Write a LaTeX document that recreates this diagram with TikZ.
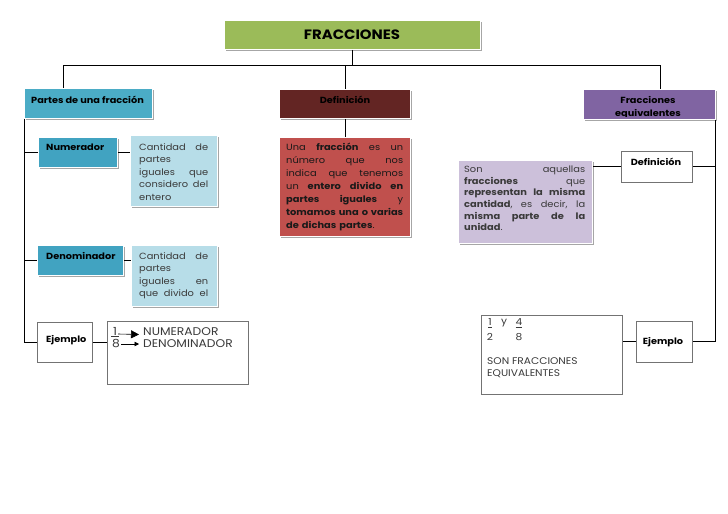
\documentclass[tikz,border=0pt]{standalone}
\usepackage{fontspec}
\setmainfont{Poppins}[FakeStretch=1.1]
\usetikzlibrary{shadows,arrows.meta}
\definecolor{cgreen}{HTML}{9BBB59}
\definecolor{cteal}{HTML}{4BACC6}
\definecolor{cteald}{HTML}{41A3C1}
\definecolor{clblue}{HTML}{B7DDE8}
\definecolor{cmaroon}{HTML}{632523}
\definecolor{cred}{HTML}{C0504D}
\definecolor{cpurple}{HTML}{8064A2}
\definecolor{clpurple}{HTML}{CCC0DA}
\definecolor{ctext}{HTML}{3A3A3A}
\newcommand{\J}[1]{\makebox[\linewidth][l]{#1}\\}
\begin{document}
\begin{tikzpicture}[x=1bp,y=-1bp,
  colbox/.style={draw=white, line width=0.8bp, inner sep=0, anchor=north west,
    drop shadow={shadow xshift=1.6bp, shadow yshift=-1.6bp, fill=black, opacity=0.35}},
  whitebox/.style={draw=black!55, line width=0.6bp, fill=white, inner sep=0, anchor=north west,
    drop shadow={shadow xshift=1bp, shadow yshift=-1bp, fill=black, opacity=0.15}},
  lab/.style={inner sep=0, font=\fontsize{8.9}{10}\selectfont\bfseries, text=black},
  body/.style={inner sep=0, anchor=north west, align=left, text=ctext},
  conn/.style={draw=black, line width=0.8bp}]
\useasboundingbox (0,0) rectangle (728,514);
\fill[white] (0,0) rectangle (728,514);

% boxes
\node[colbox, fill=cgreen, minimum width=256bp, minimum height=29bp] (title) at (224,20) {};
\node[colbox, fill=cteal, minimum width=128bp, minimum height=30bp] (partes) at (24,88) {};
\node[colbox, fill=cteald, minimum width=79bp, minimum height=30bp] (num) at (38,137) {};
\node[colbox, fill=clblue, minimum width=87bp, minimum height=71bp] (cant1) at (130,135) {};
\node[colbox, fill=cteald, minimum width=86bp, minimum height=30bp] (den) at (37,245) {};
\node[colbox, fill=clblue, minimum width=86bp, minimum height=61bp] (cant2) at (131,245) {};
\node[whitebox, minimum width=55bp, minimum height=40bp] (ej1) at (37,322) {};
\node[whitebox, minimum width=141bp, minimum height=63bp] (ex1) at (107,321) {};
\node[colbox, fill=cmaroon, minimum width=131bp, minimum height=29bp] (def) at (279,89) {};
\node[colbox, fill=cred, minimum width=131bp, minimum height=99bp] (red) at (279,137) {};
\node[colbox, fill=cpurple, minimum width=132bp, minimum height=30bp] (fe) at (583,89) {};
\node[whitebox, minimum width=71bp, minimum height=31bp] (def2) at (621,151) {};
\node[colbox, fill=clpurple, minimum width=134bp, minimum height=83bp] (pur) at (458,160) {};
\node[whitebox, minimum width=56bp, minimum height=41bp] (ej2) at (636,321) {};
\node[whitebox, minimum width=141bp, minimum height=79bp] (ex2) at (481,315) {};

% connectors
\coordinate (jL) at (63,65);
\coordinate (jR) at (660,65);
\draw[conn] (title.south) -- (title.south |- jL);
\draw[conn] (jL |- partes.north) -- (jL) -- (jR) -- (jR |- fe.north);
\draw[conn] (def.north) -- (def.north |- jL);
\draw[conn] (def.south) -- (red.north);
\draw[conn] (partes.south west) |- (ej1.west);
\draw[conn] (partes.south west |- num.west) -- (num.west);
\draw[conn] (partes.south west |- den.west) -- (den.west);
\draw[conn] (num.east) -- (cant1.west |- num.east);
\draw[conn] (den.east) -- (cant2.west |- den.east);
\draw[conn] (ej1.east) -- (ex1.west |- ej1.east);
\draw[conn] (fe.south east) |- (ej2.east);
\draw[conn] (fe.south east |- def2.east) -- (def2.east);
\draw[conn] (def2.west) -- (pur.east |- def2.west);
\draw[conn] (ej2.west) -- (ex2.east |- ej2.west);

% labels
\node[lab, font=\fontsize{13.6}{15}\selectfont\bfseries] (titletxt) at (352,35) {FRACCIONES};
\node[lab, anchor=west] (partestxt) at (31,100) {Partes de una fracción};
\node[lab, anchor=west] (numtxt) at (46,147) {Numerador};
\node[lab, anchor=west] (dentxt) at (46,256) {Denominador};
\node[lab, anchor=west] (ej1txt) at (46,340) {Ejemplo};
\node[lab] (deftxt) at (345,100) {Definición};
\begin{scope}
\clip ([yshift=-0.5bp]fe.north west) rectangle ([xshift=-0.5bp,yshift=3bp]fe.south east);
\node[lab, align=center, font=\fontsize{8.9}{13.5}\selectfont\bfseries, anchor=north] (fetxt) at (648,96) {Fracciones\\equivalentes};
\end{scope}
\node[lab] (def2txt) at (656,162) {Definición};
\node[lab] (ej2txt) at (663,342) {Ejemplo};

% body texts
\node[body, text width=69bp, font=\fontsize{9}{12.6}\selectfont] (c1txt) at (139,143)
 {\J{Cantidad\hfill de}partes\\\J{iguales\hfill que}\J{considero\hfill del}entero};
\node[body, text width=69bp, font=\fontsize{9}{12.6}\selectfont] (c2txt) at (139,252)
 {\J{Cantidad\hfill de}partes\\\J{iguales\hfill en}\J{que\hfill divido\hfill el}};
\node[body, text width=117bp, text=black!90, font=\fontsize{9}{13}\selectfont] (redtxt) at (286,143)
 {\J{Una\hfill \textbf{fracción}\hfill es\hfill un}\J{número\hfill que\hfill nos}\J{indica\hfill que\hfill tenemos}\J{un\hfill \textbf{entero}\hfill\textbf{divido}\hfill\textbf{en}}\J{\textbf{partes}\hfill\textbf{iguales}\hfill y}\J{\textbf{tomamos}\hfill\textbf{una}\hfill\textbf{o}\hfill\textbf{varias}}\textbf{de dichas partes}.};
\node[body, text width=121bp, font=\fontsize{9}{11.6}\selectfont] (purtxt) at (464,166)
 {\J{Son\hfill aquellas}\J{\textbf{fracciones}\hfill que}\J{\textbf{representan}\hfill\textbf{la}\hfill\textbf{misma}}\J{\textbf{cantidad},\hfill es\hfill decir,\hfill la}\J{\textbf{misma}\hfill\textbf{parte}\hfill\textbf{de}\hfill\textbf{la}}\textbf{unidad}.};

% example left
\node[inner sep=0, anchor=west, font=\fontsize{11.2}{13}\selectfont, text=ctext] (n1) at (111,332) {\underline{\,1\,}};
\node[inner sep=0, anchor=west, font=\fontsize{11.2}{13}\selectfont, text=ctext] (n8) at (112,344) {8};
\node[inner sep=0, anchor=west, font=\fontsize{11.2}{13}\selectfont, text=ctext] (nnum) at (143,332) {NUMERADOR};
\node[inner sep=0, anchor=west, font=\fontsize{11.2}{13}\selectfont, text=ctext] (nden) at (143,344) {DENOMINADOR};
\coordinate (a1) at ([xshift=-1bp,yshift=-2bp]n1.east);
\draw[line width=0.6bp, -{Triangle[length=8bp,width=8bp]}] (a1) -- ([xshift=-4bp,yshift=-2.5bp]nnum.west);
\draw[line width=0.6bp, -{Triangle[length=4.5bp,width=4.5bp]}] ([xshift=1bp]n8.east) -- ([xshift=-4bp]nden.west);

% example right
\node[inner sep=0, font=\fontsize{9.7}{11}\selectfont, text=ctext] (f1) at (490,323) {\underline{1}};
\node[inner sep=0, font=\fontsize{9.7}{11}\selectfont, text=ctext] (f2) at (490,337) {2};
\node[inner sep=0, font=\fontsize{9.7}{11}\selectfont, text=ctext] (fy) at (504,323) {y};
\node[inner sep=0, font=\fontsize{9.7}{11}\selectfont, text=ctext] (f4) at (519,323) {\underline{4}};
\node[inner sep=0, font=\fontsize{9.7}{11}\selectfont, text=ctext] (f8) at (519,337) {8};
\node[body, font=\fontsize{9.7}{13}\selectfont] (sontxt) at (487,357) {SON FRACCIONES\\EQUIVALENTES};
\end{tikzpicture}
\end{document}
